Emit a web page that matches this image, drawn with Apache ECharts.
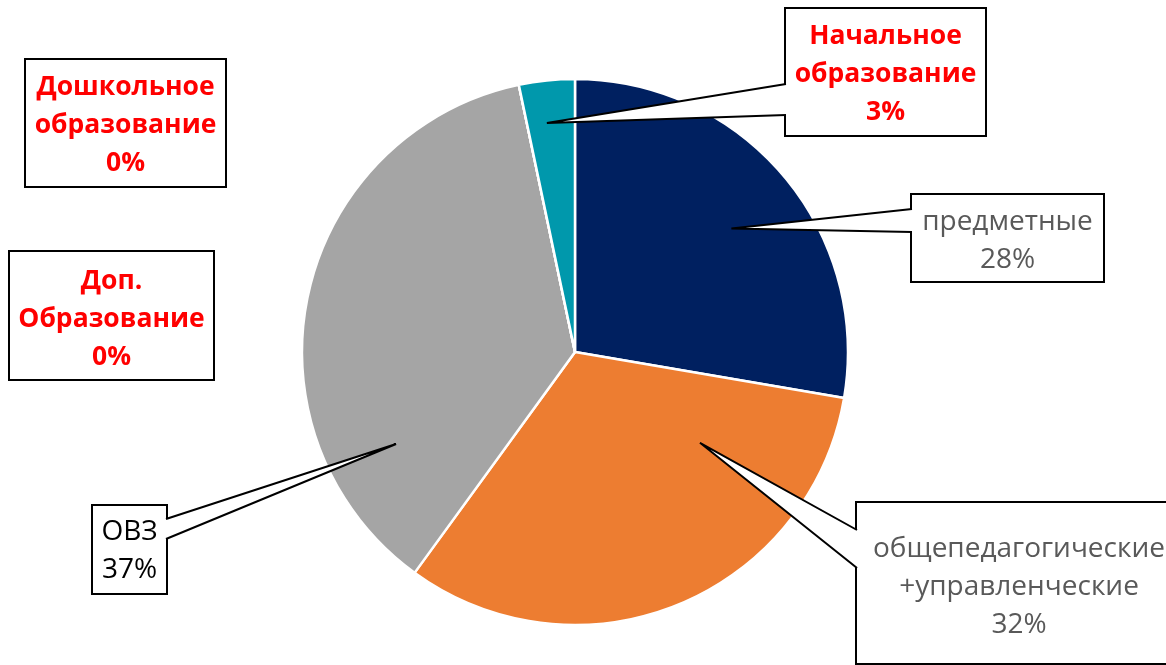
<!DOCTYPE html>
<html>
<head>
<meta charset="utf-8">
<script src="https://cdn.jsdelivr.net/npm/echarts@6/dist/echarts.min.js"></script>
<style>
  html, body { margin: 0; padding: 0; background: #fff; }
  #chart { width: 1166px; height: 665px; }
</style>
</head>
<body>
<div id="chart"></div>
<script>
// data
const categories = [
  "предметные",
  "общепедагогические\n+управленческие",
  "ОВЗ",
  "Дошкольное\nобразование",
  "Доп.\nОбразование",
  "Начальное\nобразование",
];
const shares = [27.7, 32.3, 36.7, 0, 0, 3.3];
const sliceColors = ["#002060", "#ED7D31", "#A5A5A5", "#5B9BD5", "#FFC000", "#0098AC"];

// layout of the pie and the label boxes (pixels)
const pieCenter = [575, 352];
const pieRadius = 273;
const lineH = 38;
const boxes = [
  { left: 912, top: 195, w: 191, h: 86, ty: 241.5, tip: [51.7, 0.73], side: "left", a: 14, b: 37, kind: "gray" },
  { left: 857, top: 503, w: 324, h: 160, ty: 587.5, tip: [126, 0.566], side: "left", a: 27, b: 65, kind: "gray" },
  { left: 93, top: 506, w: 73, h: 87, ty: 551, tip: [242.8, 0.737], side: "right", a: 13, b: 33, kind: "black" },
  { left: 26, top: 60, w: 199, h: 126, ty: 125, kind: "red" },
  { left: 10, top: 252, w: 203, h: 127, ty: 319, kind: "red" },
  { left: 786, top: 9, w: 199, h: 126, ty: 74.5, tip: [353, 0.845], side: "left", a: 75, b: 106, kind: "red" },
];
const textKinds = {
  gray: { color: "#595959", fontWeight: "normal", fontSize: 28 },
  black: { color: "#000000", fontWeight: "normal", fontSize: 28 },
  red: { color: "#FF0000", fontWeight: "bold", fontSize: 26.5 },
};

const chart = echarts.init(document.getElementById("chart"), null, { renderer: "canvas" });

const pieData = categories.map((name, i) => {
  const b = boxes[i];
  const lines = name.split("\n").length + 1;
  const padTop = b.ty - b.top - (lines * lineH) / 2;
  const padBottom = b.h - padTop - lines * lineH;
  return {
    name: name,
    value: shares[i],
    itemStyle: { color: sliceColors[i] },
    label: Object.assign({ width: b.w, padding: [padTop, 0, padBottom, 0] }, textKinds[b.kind]),
  };
});

// callout wedges: tip inside the slice, base on the box edge
const calloutGraphics = [];
boxes.forEach((b) => {
  if (!b.tip) return;
  const ang = (b.tip[0] * Math.PI) / 180;
  const tip = [
    pieCenter[0] + pieRadius * b.tip[1] * Math.sin(ang),
    pieCenter[1] - pieRadius * b.tip[1] * Math.cos(ang),
  ];
  const ex = b.side === "left" ? b.left : b.left + b.w;
  const inset = b.side === "left" ? 2.5 : -2.5;
  const A = [ex, b.top + b.a];
  const B = [ex, b.top + b.b];
  calloutGraphics.push({
    type: "polygon",
    z: 100,
    silent: true,
    shape: { points: [[ex + inset, A[1]], A, tip, B, [ex + inset, B[1]]] },
    style: { fill: "#fff", stroke: null },
  });
  calloutGraphics.push({
    type: "polyline",
    z: 101,
    silent: true,
    shape: { points: [A, tip, B] },
    style: { stroke: "#000", lineWidth: 2, fill: null, lineJoin: "miter" },
  });
});

const option = {
  backgroundColor: "#fff",
  animation: false,
  textStyle: { fontFamily: "Open Sans" },
  graphic: calloutGraphics,
  series: [
    {
      type: "pie",
      center: pieCenter,
      radius: pieRadius,
      startAngle: 90,
      clockwise: true,
      avoidLabelOverlap: false,
      itemStyle: { borderColor: "#fff", borderWidth: 2.5 },
      label: {
        show: true,
        position: "outside",
        fontFamily: "Open Sans",
        lineHeight: lineH,
        align: "center",
        backgroundColor: "#fff",
        borderColor: "#000",
        borderWidth: 2,
        formatter: (p) => p.name + "\n" + Math.round(p.percent) + "%",
      },
      labelLine: { show: false },
      labelLayout: (params) => {
        const b = boxes[params.dataIndex];
        return { x: b.left + b.w / 2, y: b.top, align: "center", verticalAlign: "top" };
      },
      emphasis: { disabled: true },
      data: pieData,
    },
  ],
};

chart.setOption(option);
</script>
</body>
</html>
